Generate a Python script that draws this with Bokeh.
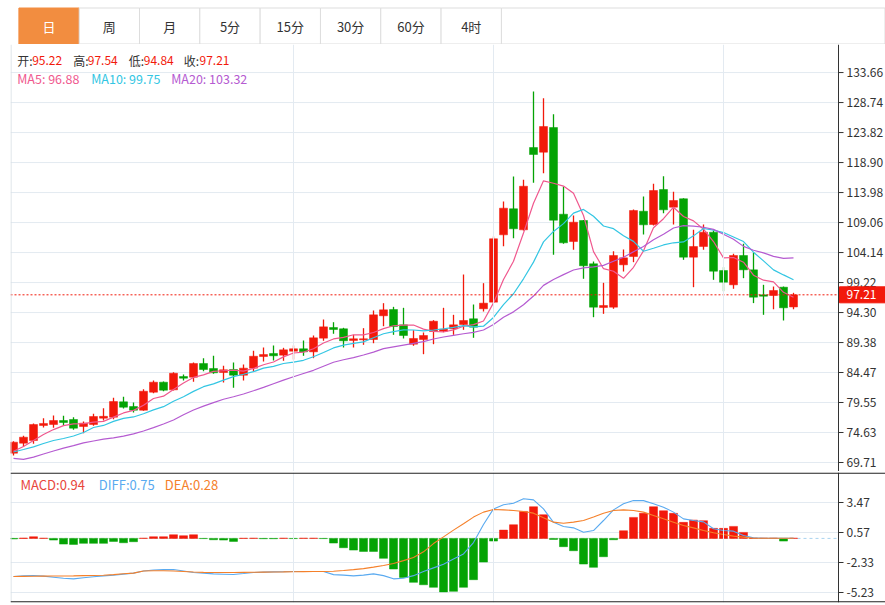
import numpy as np
import pandas as pd
from bokeh.plotting import figure
from bokeh.models import Range1d, Span, ColumnDataSource
from bokeh.layouts import column
from bokeh.embed import file_html
from bokeh.resources import INLINE
from bokeh.core.properties import value

FONT = "Noto Sans CJK SC"
RED = "#f2190b"
GREEN = "#04a304"
MA5_C = "#f0588e"
MA10_C = "#33c6e3"
MA20_C = "#b55bd1"
DIFF_C = "#5aaaf0"
DEA_C = "#f5802a"
GRID_C = "#e3eaf1"
TXT = "#333333"

# ---------------- data ----------------
opens = [71.24, 72.88, 73.32, 75.78, 75.94, 76.60, 76.76, 75.61, 75.94, 76.98,
         77.14, 79.66, 78.89, 78.29, 81.24, 82.88, 81.63, 83.81, 83.70, 85.95,
         85.13, 84.47, 84.96, 84.03, 85.18, 87.09, 87.59, 87.31, 87.96, 88.36,
         87.86, 90.10, 91.85, 91.64, 89.72, 89.83, 89.88, 93.77, 94.80, 92.29,
         89.11, 89.88, 91.19, 91.24, 91.64, 92.34, 93.28, 94.92, 96.00, 107.05,
         111.32, 107.87, 121.37, 120.60, 124.65, 110.43, 105.95, 109.40, 102.30, 95.13,
         95.18, 102.13, 103.49, 110.92, 108.74, 114.48, 111.58, 112.96, 103.38, 105.13,
         107.48, 101.20, 98.85, 103.66, 101.31, 97.21, 97.10, 98.46, 95.22]
highs = [73.20, 74.09, 76.11, 76.98, 77.42, 77.37, 77.14, 76.43, 77.70, 78.62,
         80.32, 80.48, 79.55, 81.73, 83.16, 83.00, 84.52, 84.14, 86.11, 86.82,
         87.21, 85.57, 86.11, 85.78, 88.03, 88.57, 88.90, 88.52, 88.90, 89.72,
         90.54, 93.16, 92.72, 91.80, 90.65, 91.74, 94.64, 95.84, 95.24, 95.08,
         91.41, 91.03, 93.05, 95.08, 93.93, 100.54, 95.62, 99.12, 106.77, 112.51,
         116.61, 116.07, 130.55, 129.46, 126.83, 114.97, 110.22, 109.50, 102.67, 99.18,
         104.36, 104.64, 111.20, 113.33, 115.42, 116.66, 114.10, 113.05, 107.87, 108.74,
         107.76, 101.74, 103.94, 105.58, 104.15, 98.85, 98.57, 98.57, 97.54]
lows = [70.86, 72.33, 72.78, 75.45, 75.40, 75.83, 75.07, 74.52, 75.73, 76.60,
        76.81, 78.57, 77.91, 78.19, 81.08, 81.40, 81.52, 83.16, 82.94, 84.68,
        84.26, 82.83, 81.96, 83.16, 84.63, 86.27, 86.44, 86.39, 86.60, 87.21,
        86.82, 89.67, 90.82, 88.57, 88.57, 89.01, 89.27, 92.06, 90.65, 90.05,
        88.85, 87.47, 89.11, 91.08, 90.65, 91.47, 90.16, 94.47, 95.90, 105.18,
        106.50, 107.76, 115.58, 117.16, 103.77, 105.58, 104.59, 99.84, 93.54, 94.09,
        94.92, 101.03, 102.56, 107.10, 108.58, 110.60, 108.74, 102.95, 98.46, 104.59,
        99.67, 97.80, 98.20, 99.94, 95.85, 93.93, 94.84, 93.00, 94.84]
closes = [73.04, 73.86, 75.94, 76.11, 76.60, 76.27, 75.34, 76.16, 77.25, 77.28,
          79.71, 78.78, 78.29, 81.40, 82.88, 81.57, 84.35, 83.54, 85.95, 84.96,
          84.42, 84.91, 84.03, 85.18, 87.14, 87.42, 87.21, 88.19, 88.36, 87.86,
          90.16, 91.96, 91.52, 89.67, 90.00, 90.00, 93.93, 94.75, 92.01, 90.54,
          90.05, 90.54, 92.88, 91.57, 92.29, 93.00, 91.90, 95.84, 106.40, 111.42,
          108.04, 115.02, 120.22, 124.81, 109.45, 105.74, 109.12, 101.97, 95.18, 95.46,
          103.66, 103.28, 111.04, 108.69, 114.32, 111.15, 112.68, 103.38, 105.13, 107.48,
          101.08, 99.28, 103.66, 101.31, 96.82, 96.98, 97.92, 95.08, 97.21]

# moving-average values visible before a full window exists
ma5_head = [71.56, 72.33, 73.32, 74.30]
ma10_head = [71.43, 71.84, 72.28, 72.83, 73.32, 73.65, 74.06, 74.63, 75.45]
ma20_head = [70.40, 70.23, 70.58, 71.10, 71.60, 72.06, 72.47, 72.94, 73.24, 73.53,
             73.76, 74.04, 74.40, 74.88, 75.42, 76.02, 76.68, 77.53, 78.32]

macd_bar = [-0.05, 0.03, 0.16, 0.02, -0.16, -0.55, -0.58, -0.48, -0.48, -0.48,
            -0.29, -0.42, -0.32, 0.02, 0.16, 0.16, 0.35, 0.26, 0.35, -0.02,
            -0.13, -0.16, -0.29, 0.01, 0.02, -0.03, -0.03, 0.02, -0.02, 0.02,
            0.02, -0.02, -0.45, -0.90, -1.13, -1.26, -1.26, -1.93, -2.96, -3.77,
            -4.25, -4.48, -4.73, -5.17, -5.12, -4.73, -3.99, -2.29, -0.26, 0.80,
            1.32, 2.61, 3.06, 2.29, -0.10, -0.80, -1.19, -2.48, -2.80, -1.77,
            -0.13, 0.74, 2.03, 2.42, 3.06, 2.67, 2.42, 1.55, 1.77, 1.71,
            0.97, 0.97, 1.16, 0.58, 0.03, 0.02, 0.02, -0.26, 0.02]
diff = [-3.68, -3.62, -3.59, -3.65, -3.75, -3.85, -3.91, -3.80, -3.70, -3.62,
        -3.55, -3.45, -3.36, -3.15, -3.05, -3.02, -3.01, -3.15, -3.30, -3.36,
        -3.43, -3.46, -3.49, -3.40, -3.30, -3.26, -3.24, -3.22, -3.20, -3.20,
        -3.20, -3.20, -3.50, -3.55, -3.62, -3.55, -3.43, -3.60, -3.91, -3.85,
        -3.60, -3.20, -2.85, -2.50, -2.00, -1.50, -0.40, 1.35, 2.85, 3.25,
        3.40, 3.83, 3.72, 2.85, 1.55, 1.15, 1.02, 0.60, 0.76, 1.73,
        2.76, 3.35, 3.67, 3.65, 3.35, 3.02, 2.54, 1.89, 1.73, 1.60,
        0.93, 0.76, 0.70, 0.28, 0.05, 0.02, 0.02, 0.02, 0.02]
dea = [-3.68, -3.67, -3.66, -3.65, -3.64, -3.63, -3.62, -3.60, -3.58, -3.56,
       -3.50, -3.42, -3.36, -3.15, -3.12, -3.12, -3.15, -3.20, -3.25, -3.28,
       -3.30, -3.30, -3.30, -3.28, -3.27, -3.26, -3.25, -3.24, -3.22, -3.21,
       -3.20, -3.20, -3.17, -3.10, -3.02, -2.92, -2.78, -2.62, -2.42, -2.15,
       -1.85, -1.30, -0.50, 0.15, 0.80, 1.41, 2.06, 2.54, 2.80, 2.76,
       2.70, 2.60, 2.44, 2.00, 1.57, 1.47, 1.57, 1.73, 2.06, 2.44,
       2.70, 2.76, 2.70, 2.54, 2.22, 1.89, 1.57, 1.25, 1.02, 0.76,
       0.54, 0.38, 0.22, 0.12, 0.02, 0.02, 0.02, 0.02, 0.02]

price_ticks = [69.71, 74.63, 79.55, 84.47, 89.38, 94.30, 99.22, 104.14,
               109.06, 113.98, 118.90, 123.82, 128.74, 133.66]
macd_ticks = [-5.23, -2.33, 0.57, 3.47]
month_starts = [28, 48, 71]
tabs = ["日", "周", "月", "5分", "15分", "30分", "60分", "4时"]

ma5_last, ma10_last, ma20_last = 96.88, 99.75, 103.32
macd_last, diff_last, dea_last = 0.94, 0.75, 0.28

# ---------------- derived ----------------
n = len(closes)
idx = np.arange(n)
s = pd.Series(closes)


def moving_avg(win, head):
    m = s.rolling(win).mean().to_numpy()
    m[:win - 1] = head
    return m


ma5 = moving_avg(5, ma5_head)
ma10 = moving_avg(10, ma10_head)
ma20 = moving_avg(20, ma20_head)

cols = [RED if c >= o else GREEN for o, c in zip(opens, closes)]
src = ColumnDataSource(dict(
    x=idx, h=highs, l=lows,
    top=[max(o, c) for o, c in zip(opens, closes)],
    bot=[min(o, c) for o, c in zip(opens, closes)],
    col=cols))

W = 885
LB = 10                      # left border in px
X0 = -0.3                    # candle index at frame left
X1 = X0 + (W - LB) / 10.0    # 10 px per candle
XA = X0 + (838 - LB) / 10.0  # axis position (index units)


def kx(px):
    return X0 + (px - LB) / 10.0


def base_fig(h, yr, top=0, bottom=0):
    f = figure(width=W, height=h, x_range=Range1d(X0, X1), y_range=Range1d(*yr),
               toolbar_location=None, output_backend="svg",
               x_axis_location=None, y_axis_location=None,
               min_border_left=LB, min_border_right=0,
               min_border_top=top, min_border_bottom=bottom)
    f.outline_line_color = None
    f.grid.visible = False
    return f


def add_axis(f, ticks):
    # grid lines up to axis, month lines, axis line, ticks and labels
    f.segment(x0=X0, x1=XA, y0=ticks, y1=ticks, line_color=GRID_C, line_width=1)
    for m in month_starts:
        f.add_layout(Span(location=m, dimension="height", line_color=GRID_C, line_width=1))
    f.add_layout(Span(location=X0 + 0.05, dimension="height", line_color="#d6dde4", line_width=1))
    f.add_layout(Span(location=XA, dimension="height", line_color=TXT, line_width=1))
    f.segment(x0=XA, x1=XA + 0.5, y0=ticks, y1=ticks, line_color=TXT, line_width=1)
    f.text(x=XA + 0.8, y=ticks, text=[f"{t:.2f}" for t in ticks], text_color=TXT,
           text_font=value(FONT), text_font_size="12px", text_baseline="middle",
           text_align="left")


# ---------------- tabs ----------------
pt = figure(width=W, height=44, x_range=Range1d(0, W), y_range=Range1d(0, 44),
            toolbar_location=None, output_backend="svg",
            x_axis_location=None, y_axis_location=None,
            min_border_left=0, min_border_right=0, min_border_top=0, min_border_bottom=0)
pt.outline_line_color = None
pt.grid.visible = False
tw = 61
tx = [8.5 + tw * i + tw / 2 for i in range(len(tabs))]
last_edge = 8.5 + tw * len(tabs)
pt.rect(x=(last_edge + W - 0.5) / 2, y=18.5, width=W - 0.5 - last_edge, height=36,
        fill_color="white", line_color="#dddddd")
pt.rect(x=tx, y=18.5, width=tw, height=36,
        fill_color=["#f28d40"] + ["white"] * (len(tabs) - 1),
        line_color=["#f28d40"] + ["#dddddd"] * (len(tabs) - 1), line_width=1)
pt.text(x=tx, y=18, text=tabs, text_align="center", text_baseline="middle",
        text_font=value(FONT), text_font_size="13px",
        text_color=["white"] + [TXT] * (len(tabs) - 1))

# ---------------- main ----------------
PPU = 30 / 4.92              # px per price unit
YP0 = 69.71 - (471 - 462) / PPU
YP1 = 69.71 + (462 - 44) / PPU
p = base_fig(427, (YP0, YP1))
add_axis(p, price_ticks)

p.segment(x0="x", y0="h", x1="x", y1="l", color="col", line_width=1.3, source=src)
p.vbar(x="x", top="top", bottom="bot", width=0.8, fill_color="col", line_color="col",
       line_width=0.5, source=src)
p.line(idx, ma5, line_color=MA5_C, line_width=1.2)
p.line(idx, ma10, line_color=MA10_C, line_width=1.2)
p.line(idx, ma20, line_color=MA20_C, line_width=1.2)

last_close = closes[-1]
p.segment(x0=X0, x1=XA, y0=last_close, y1=last_close, line_color=RED,
          line_dash="2 2", line_width=1)
p.rect(x=(XA + X1) / 2 + 0.05, y=last_close, width=X1 - XA - 0.1, height=16 / PPU,
       fill_color=RED, line_color=RED)
p.text(x=XA + 0.8, y=last_close, text=[f"{last_close:.2f}"], text_color="white",
       text_font=value(FONT), text_font_size="12px", text_baseline="middle")


def py_main(py):
    return YP1 - (py - 44) / PPU


lg1 = [("开:", 16.7, TXT), (f"{opens[-1]:.2f}", 31.7, RED),
       ("高:", 72.7, TXT), (f"{highs[-1]:.2f}", 87.3, RED),
       ("低:", 128.3, TXT), (f"{lows[-1]:.2f}", 143.3, RED),
       ("收:", 183.3, TXT), (f"{last_close:.2f}", 199.0, RED)]
p.text(x=[kx(a[1]) for a in lg1], y=py_main(60), text=[a[0] for a in lg1],
       text_color=[a[2] for a in lg1], text_font=value(FONT), text_font_size="12px",
       text_baseline="middle")
lg2 = [(f"MA5: {ma5_last:.2f}", 16.7, MA5_C), (f"MA10: {ma10_last:.2f}", 90.7, MA10_C),
       (f"MA20: {ma20_last:.2f}", 170.7, MA20_C)]
p.text(x=[kx(a[1]) for a in lg2], y=py_main(78), text=[a[0] for a in lg2],
       text_color=[a[2] for a in lg2], text_font=value(FONT), text_font_size="12.5px",
       text_baseline="middle")

# ---------------- MACD ----------------
MPU = 30 / 2.9               # px per MACD unit
ZERO_PY = 537.9
YM1 = (ZERO_PY - 472) / MPU
YM0 = (ZERO_PY - 602) / MPU
q = base_fig(134, (YM0, YM1), top=1, bottom=3)
add_axis(q, macd_ticks)
q.add_layout(Span(location=YM1 - 0.6 / MPU, dimension="width", line_color="#222222", line_width=1.2))
q.add_layout(Span(location=YM0 + 0.6 / MPU, dimension="width", line_color="#222222", line_width=1.2))

q.segment(x0=X0, y0=0, x1=n - 0.6, y1=0, line_color="#bfe0c6", line_dash="4 2", line_width=1)
q.segment(x0=n - 0.6, y0=0, x1=XA, y1=0, line_color="#a9d3ef", line_dash="3 3", line_width=1)
mcol = [RED if v > 0 else GREEN for v in macd_bar]
q.vbar(x=idx, top=macd_bar, bottom=0, width=0.8, fill_color=mcol, line_color=mcol, line_width=0.5)
q.line(idx, diff, line_color=DIFF_C, line_width=1.1)
q.line(idx, dea, line_color=DEA_C, line_width=1.1)

lg3 = [(f"MACD:{macd_last:.2f}", 20.0, "#e8463c"), (f"DIFF:{diff_last:.2f}", 98.3, DIFF_C),
       (f"DEA:{dea_last:.2f}", 164.3, DEA_C)]
q.text(x=[kx(a[1]) for a in lg3], y=(ZERO_PY - 484) / MPU, text=[a[0] for a in lg3],
       text_color=[a[2] for a in lg3], text_font=value(FONT), text_font_size="13px",
       text_baseline="middle")

layout = column(pt, p, q, spacing=0)
open("out.html", "w").write(file_html(layout, INLINE))
